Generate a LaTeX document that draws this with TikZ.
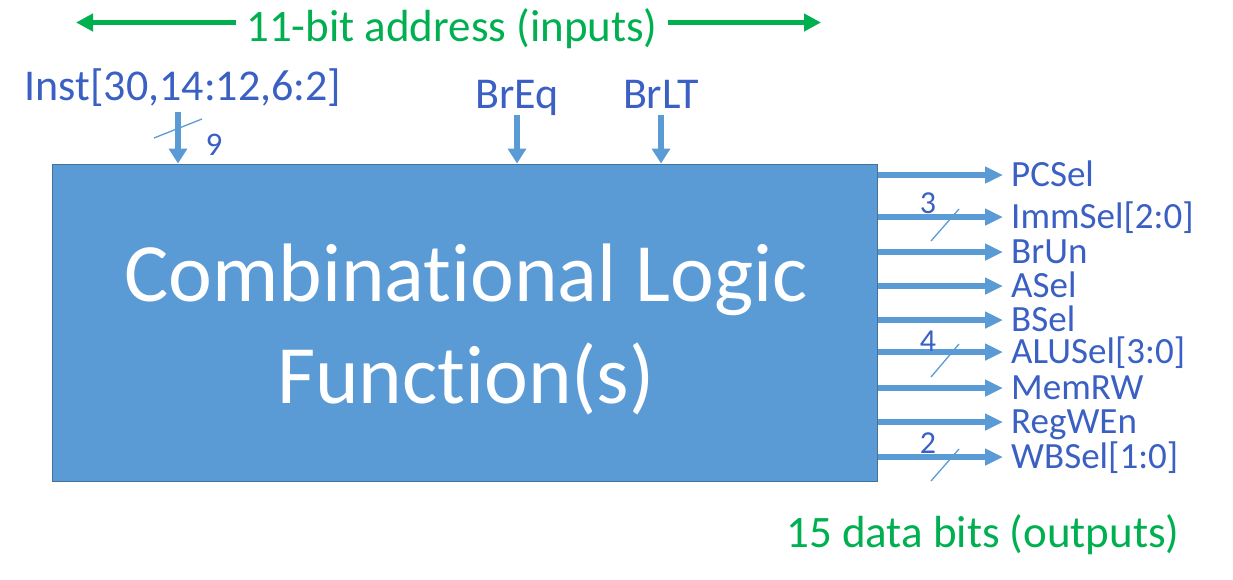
\documentclass[tikz,border=0pt]{standalone}
\usepackage{fontspec}
\setmainfont{Carlito}[Ligatures=NoCommon]
\usetikzlibrary{arrows.meta}
\definecolor{boxblue}{RGB}{91,155,213}
\definecolor{boxedge}{RGB}{65,113,156}
\definecolor{txtblue}{RGB}{58,96,196}
\definecolor{grn}{RGB}{0,176,80}
\begin{document}
\begin{tikzpicture}[x=1pt,y=-1pt,
  box/.style={draw=boxedge, line width=1pt, fill=boxblue, minimum width=825pt, minimum height=317pt, inner sep=0pt},
  bigtxt/.style={anchor=base, text=white, font=\fontsize{83}{102}\selectfont, inner sep=0pt},
  outarrow/.style={draw=boxblue, line width=5.5pt, -{Triangle[length=18pt,width=16pt]}},
  inarrow/.style={draw=boxblue, line width=5.5pt, -{Triangle[length=15pt,width=18pt]}},
  grnarrow/.style={draw=grn, line width=5pt, -{Triangle[length=17pt,width=17pt]}},
  buslash/.style={draw=boxblue, line width=1.3pt},
  outlbl/.style={anchor=west, text=txtblue, font=\fontsize{37}{40}\selectfont, inner xsep=8pt, inner ysep=0pt, text height=22pt, text depth=0pt},
  inlbl/.style={anchor=base, text=txtblue, font=\fontsize{44}{48}\selectfont, inner sep=0pt},
  buswidth/.style={text=txtblue, inner sep=0pt, font=\fontsize{32}{36}\selectfont},
  grnlbl/.style={anchor=base, text=grn, font=\fontsize{45}{48}\selectfont, inner xsep=10pt, inner ysep=0pt},
]
\useasboundingbox (0,0) rectangle (1233,579);

% main block
\node[box] (clf) at (464.5,322.5) {};
\node[bigtxt] (clf1) at (466,301) {Combinational Logic};
\node[bigtxt] (clf2) at (466,403) {Function(s)};

% green annotations
\node[grnlbl] (addr) at (452,41) {11-bit address (inputs)};
\coordinate (addrL) at (76,22.5);
\coordinate (addrR) at (821,22.5);
\draw[grnarrow] (addr.west |- addrL) -- (addrL);
\draw[grnarrow] (addr.east |- addrR) -- (addrR);
\node[grnlbl] (data) at (983,547) {15 data bits (outputs)};

% inputs
\node[inlbl] (inst) at (183,100) {Inst[30,14:12,6:2]};
\node[inlbl] (breq) at (517,108) {BrEq};
\node[inlbl] (brlt) at (661,108) {BrLT};
\coordinate (instS) at (178,112);
\coordinate (breqS) at (517,115);
\coordinate (brltS) at (661,115);
\draw[inarrow] (instS) -- (instS |- clf.north);
\draw[inarrow] (breqS) -- (breqS |- clf.north);
\draw[inarrow] (brltS) -- (brltS |- clf.north);
\draw[buslash] (154,138) -- (202,119);
\node[buswidth, font=\fontsize{33}{36}\selectfont] (w9) at (214,145) {9};

% outputs
\node[outlbl] (pcsel)  at (1003,175) {PCSel};
\node[outlbl] (immsel) at (1003,217) {ImmSel[2:0]};
\node[outlbl] (brun)   at (1003,252) {BrUn};
\node[outlbl] (asel)   at (1003,286) {ASel};
\node[outlbl] (bsel)   at (1003,320) {BSel};
\node[outlbl] (alusel) at (1003,352) {ALUSel[3:0]};
\node[outlbl] (memrw)  at (1003,388) {MemRW};
\node[outlbl] (regwen) at (1003,422) {RegWEn};
\node[outlbl] (wbsel)  at (1003,457) {WBSel[1:0]};
\foreach \n in {pcsel,immsel,brun,asel,bsel,alusel,memrw,regwen,wbsel}{
  \draw[outarrow] (clf.east |- \n.west) -- (\n.west);
}
\draw[buslash] (931,241) -- (959,209);
\draw[buslash] (931,377) -- (959,344);
\draw[buslash] (931,481) -- (959,449);
\node[buswidth] (w3) at (928,203) {3};
\node[buswidth] (w4) at (928,341) {4};
\node[buswidth] (w2) at (928,443) {2};
\end{tikzpicture}
\end{document}
